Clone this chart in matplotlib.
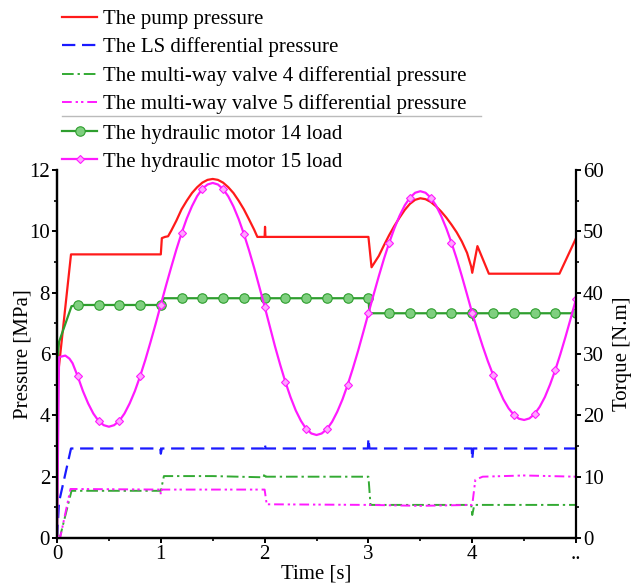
import matplotlib.pyplot as plt
import numpy as np
from matplotlib.lines import Line2D

plt.rcParams['font.family'] = ['Liberation Serif', 'DejaVu Serif']

# ---- pressures [MPa], left axis ----
tPump = [0, 0.003, 0.135, 1.0, 1.01, 1.04, 1.07, 1.1, 1.15, 1.2, 1.25, 1.3, 1.35, 1.4, 1.45,
         1.5, 1.55, 1.6, 1.65, 1.7, 1.75, 1.8, 1.85, 1.9, 1.93, 2.0, 2.004, 2.008, 3.0,
         3.03, 3.1, 3.15, 3.2, 3.25, 3.3, 3.35, 3.4, 3.45, 3.5, 3.55, 3.6, 3.65, 3.7, 3.75,
         3.8, 3.85, 3.9, 3.95, 3.99, 4.0, 4.05, 4.16, 4.84, 5.0]
pPump = [0, 5.1, 9.25, 9.25, 9.78, 9.82, 9.84, 10.02, 10.35, 10.72, 11.0, 11.25, 11.44, 11.59, 11.68,
         11.71, 11.68, 11.59, 11.44, 11.25, 11.0, 10.72, 10.39, 10.05, 9.82, 9.82, 10.15, 9.82, 9.82,
         8.83, 9.2, 9.55, 9.88, 10.18, 10.45, 10.7, 10.9, 11.03, 11.08, 11.05, 10.96, 10.82, 10.65, 10.45,
         10.22, 9.97, 9.67, 9.3, 8.85, 8.65, 9.52, 8.62, 8.62, 9.78]

tLS = [0, 0.02, 0.135, 0.995, 1.0, 1.01, 1.995, 2.0, 2.01, 2.995, 3.0, 3.01, 3.995, 4.0, 4.01, 5.0]
pLS = [0, 1.18, 2.92, 2.92, 2.75, 2.92, 2.92, 3.08, 2.92, 2.92, 3.25, 2.92, 2.92, 2.57, 2.92, 2.92]

tV4 = [0, 0.03, 0.14, 1.0, 1.03, 1.5, 1.99, 2.0, 2.01, 2.5, 3.0, 3.02, 3.99, 4.0, 4.02, 5.0]
pV4 = [0, 0.05, 1.54, 1.54, 2.02, 2.02, 1.98, 2.12, 2.0, 2.0, 2.0, 1.08, 1.08, 0.75, 1.08, 1.08]

tV5 = [0, 0.03, 0.13, 0.995, 1.0, 1.01, 2.0, 2.02, 3.0, 3.5, 4.0, 4.03, 4.1, 4.5, 5.0]
pV5 = [0, 0.0, 1.6, 1.58, 1.42, 1.58, 1.58, 1.1, 1.08, 1.05, 1.08, 1.9, 2.0, 2.04, 2.0]

# ---- loads [N.m], right axis ----
tM14 = [0, 0.005, 0.02, 0.14, 0.2, 0.4, 0.6, 0.8, 1.0, 1.03, 1.2, 1.4, 1.6, 1.8, 2.0, 2.2,
        2.4, 2.6, 2.8, 3.0, 3.01, 3.2, 3.4, 3.6, 3.8, 4.0, 4.01, 4.03, 4.2, 4.4, 4.6, 4.8, 5.0]
qM14 = [0, 29.0, 32.0, 37.8, 38.0, 38.0, 38.0, 38.0, 38.0, 39.1, 39.1, 39.1, 39.1, 39.1, 39.1, 39.1,
        39.1, 39.1, 39.1, 39.1, 36.65, 36.65, 36.65, 36.65, 36.65, 36.65, 35.5, 36.65, 36.65, 36.65,
        36.65, 36.65, 36.65]

tM15 = [0, 0.02, 0.08, 0.12, 0.15, 0.2, 0.25, 0.3, 0.35, 0.4, 0.45, 0.5, 0.55, 0.6, 0.65, 0.7,
        0.75, 0.8, 0.85, 0.9, 0.95, 1.0, 1.05, 1.1, 1.15, 1.2, 1.25, 1.3, 1.35, 1.4, 1.45, 1.5,
        1.55, 1.6, 1.65, 1.7, 1.75, 1.8, 1.85, 1.9, 1.95, 2.0, 2.05, 2.1, 2.15, 2.2, 2.25, 2.3,
        2.35, 2.4, 2.45, 2.5, 2.55, 2.6, 2.65, 2.7, 2.75, 2.8, 2.85, 2.9, 2.95, 3.0, 3.05, 3.1,
        3.15, 3.2, 3.25, 3.3, 3.35, 3.4, 3.45, 3.5, 3.55, 3.6, 3.65, 3.7, 3.75, 3.8, 3.85, 3.9,
        3.95, 4.0, 4.05, 4.1, 4.15, 4.2, 4.25, 4.3, 4.35, 4.4, 4.45, 4.5, 4.55, 4.6, 4.65, 4.7,
        4.75, 4.8, 4.85, 4.9, 4.95, 5.0]
qM15 = [0, 29.5, 29.75, 29.25, 28.5, 26.35, 23.95, 21.95, 20.3, 19.1, 18.4, 18.15, 18.4, 19.1, 20.3, 21.95,
        23.95, 26.35, 29.0, 31.9, 34.9, 38.05, 41.15, 44.15, 47.05, 49.7, 52.1, 54.1, 55.75, 56.95, 57.65, 57.9,
        57.65, 56.9, 55.7, 54.05, 52.0, 49.6, 46.9, 44.0, 40.9, 37.75, 34.5, 31.25, 28.25, 25.45, 22.95, 20.8,
        19.1, 17.8, 17.05, 16.8, 17.05, 17.75, 18.95, 20.6, 22.6, 25.0, 27.65, 30.5, 33.55, 36.65, 39.7, 42.7,
        45.55, 48.15, 50.5, 52.55, 54.25, 55.5, 56.3, 56.55, 56.3, 55.5, 54.25, 52.55, 50.5, 48.15, 45.55, 42.7,
        39.7, 36.65, 33.95, 31.3, 28.85, 26.65, 24.5, 22.6, 21.15, 20.1, 19.45, 19.25, 19.5, 20.2, 21.4, 23.0,
        25.05, 27.4, 30.05, 32.9, 35.9, 39.0]


def every_02(t, with_zero):
    t = np.asarray(t)
    mask = np.isclose(t * 5, np.round(t * 5))
    if not with_zero:
        mask &= t > 0
    return list(mask)


fig = plt.figure(figsize=(6.44, 5.85), dpi=100)
ax = fig.add_axes([0.0885, 0.0803, 0.806, 0.629])
ax2 = ax.twinx()

lPump, = ax.plot(tPump, pPump, color='#ff1a1a', lw=1.6, label='The pump pressure')
lLS, = ax.plot(tLS, pLS, color='#1a1aff', lw=1.6, dashes=(6, 3), label='The LS differential pressure')
lV4, = ax.plot(tV4, pV4, color='#33aa33', lw=1.4, dashes=(6, 2, 1.2, 2),
               label='The multi-way valve 4 differential pressure')
lV5, = ax.plot(tV5, pV5, color='#ff1aff', lw=1.4, dashes=(5, 2, 1.2, 1.6, 1.2, 2),
               label='The multi-way valve 5 differential pressure')

lM14, = ax2.plot(tM14, qM14, color='#2e9e2e', lw=1.6, marker='o', markersize=6.8,
                 markerfacecolor='#7fcf7f', markeredgecolor='#2e9e2e', markeredgewidth=0.8,
                 markevery=every_02(tM14, False), label='The hydraulic motor 14 load')
lM15, = ax2.plot(tM15, qM15, color='#ff1aff', lw=1.6, marker='D', markersize=4.5,
                 markerfacecolor='#ffa6ff', markeredgecolor='#ff1aff', markeredgewidth=0.8,
                 markevery=every_02(tM15, True), label='The hydraulic motor 15 load')

ax.set_xlim(0, 5)
ax.set_ylim(0, 12)
ax2.set_ylim(0, 60)
ax.set_xticks([0, 1, 2, 3, 4, 5])
ax.set_xticklabels(['0', '1', '2', '3', '4', '..'])
ax.set_xticks(np.arange(0.5, 5, 1), minor=True)
ax.set_yticks(np.arange(0, 13, 2))
ax.set_yticks(np.arange(1, 12, 2), minor=True)
ax2.set_yticks(np.arange(0, 61, 10))
ax2.set_yticks(np.arange(5, 60, 10), minor=True)

for a in (ax, ax2):
    a.spines['top'].set_visible(False)
    for s in a.spines.values():
        s.set_linewidth(1.6)
    a.tick_params(which='major', direction='out', length=3.5, width=1.4, pad=1.5, labelsize=15)
    a.tick_params(which='minor', direction='out', length=2.2, width=1.2)
ax.spines['right'].set_visible(False)

ax.set_xlabel('Time [s]', fontsize=15, labelpad=0.5)
# axis titles placed in figure pixels, as in the reference
fig.text(23 / 644, 1 - 354 / 585, 'Pressure [MPa]', fontsize=15, rotation=90,
         ha='center', va='center')
fig.text(623 / 644, 1 - 354 / 585, 'Torque [N.m]', fontsize=15, rotation=90,
         ha='center', va='center')

leg_kw = dict(loc='upper left', frameon=False, fontsize=15, handlelength=1.68,
              handletextpad=0.29, labelspacing=0.41, borderpad=0, borderaxespad=0)
fig.legend(handles=[lPump, lLS, lV4, lV5], bbox_to_anchor=(0.0963, 0.984), **leg_kw)
fig.legend(handles=[lM14, lM15], bbox_to_anchor=(0.0963, 0.788), **leg_kw)
fig.add_artist(Line2D([0.0963, 0.747], [0.8017, 0.8017], transform=fig.transFigure,
                      color='#bbbbbb', lw=1))

plt.savefig('out.png', dpi=100)
